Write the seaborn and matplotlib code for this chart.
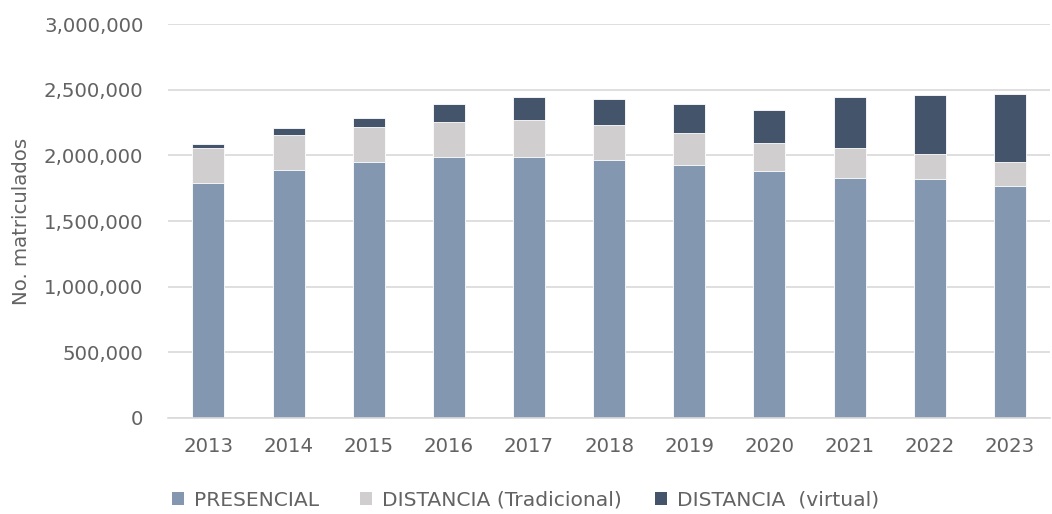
import matplotlib.pyplot as plt
import matplotlib.ticker as mticker
import numpy as np
import pandas as pd
import seaborn as sns
from matplotlib.patches import Patch

anios = ['2013', '2014', '2015', '2016', '2017', '2018', '2019', '2020', '2021', '2022', '2023']
presencial = [1790000, 1890000, 1953000, 1989000, 1989000, 1963000, 1925000, 1880000, 1829000, 1819000, 1766000]
distancia_trad = [270000, 269000, 267000, 269000, 281000, 272000, 249000, 218000, 231000, 192000, 187000]
distancia_virtual = [30000, 50000, 63000, 137000, 175000, 198000, 221000, 248000, 385000, 447000, 518000]

etiquetas = ['PRESENCIAL', 'DISTANCIA (Tradicional)', 'DISTANCIA  (virtual)']
colores = ['#8497B0', '#D0CECE', '#44546A']


def main():
    sns.set_theme(style='white')
    plt.rcParams['font.family'] = ['DejaVu Sans']
    gris = '#636363'

    df = pd.DataFrame({
        'anio': anios,
        'presencial': presencial,
        'trad': distancia_trad,
        'virtual': distancia_virtual,
    })
    df['nivel2'] = df['presencial'] + df['trad']
    df['total'] = df['nivel2'] + df['virtual']

    fig, ax = plt.subplots(figsize=(10.52, 5.14), dpi=100)
    fig.subplots_adjust(left=0.16, right=0.998, top=0.953, bottom=0.187)

    # barras apiladas: se dibuja de atrás hacia adelante
    for col, color in zip(['total', 'nivel2', 'presencial'], colores[::-1]):
        sns.barplot(data=df, x='anio', y=col, color=color, width=0.4,
                    edgecolor='white', linewidth=0.6, saturation=1, ax=ax)

    ax.set_ylim(0, 3000000)
    ax.yaxis.set_major_locator(mticker.MultipleLocator(500000))
    ax.yaxis.set_major_formatter(mticker.FuncFormatter(lambda v, p: f'{int(v):,}'))
    ax.grid(axis='y', color='#D9D9D9', linewidth=1.2)
    ax.set_axisbelow(True)
    for s in ['top', 'right', 'left']:
        ax.spines[s].set_visible(False)
    ax.spines['bottom'].set_color('#D9D9D9')
    ax.spines['bottom'].set_linewidth(1.2)

    ax.tick_params(axis='both', colors=gris, labelsize=14.2, length=0)
    ax.tick_params(axis='y', pad=18)
    ax.tick_params(axis='x', pad=14)
    ax.set_xlabel('')
    ax.set_ylabel('No. matriculados', color=gris, fontsize=14.2, labelpad=9)

    # leyenda: una entrada por posición
    posiciones = [172, 360, 655]
    for x, c, et in zip(posiciones, colores, etiquetas):
        fig.legend([Patch(facecolor=c, edgecolor='none')], [et], loc='center left',
                   bbox_to_anchor=(x / 1052, 1 - 500 / 514), frameon=False,
                   fontsize=14.6, labelcolor=gris, borderpad=0, borderaxespad=0,
                   handlelength=0.6, handleheight=0.6, handletextpad=0.5)

    fig.savefig('out.png', dpi=100)
    plt.close(fig)


if __name__ == '__main__':
    main()
